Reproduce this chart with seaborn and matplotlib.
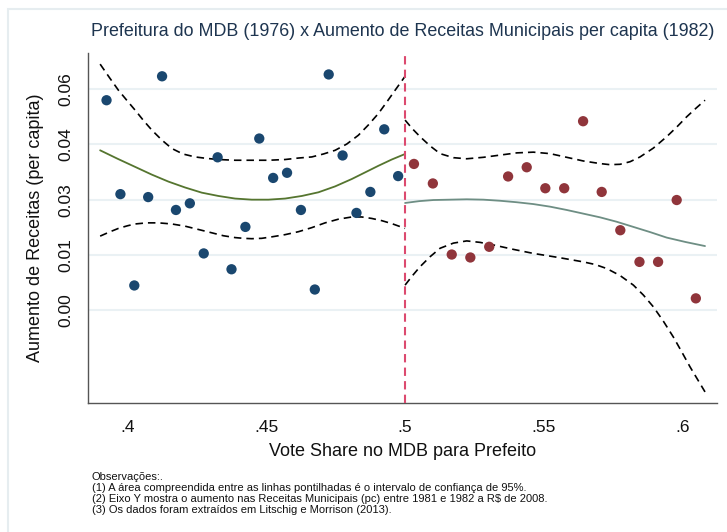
import matplotlib
matplotlib.use("Agg")
import matplotlib.pyplot as plt
import seaborn as sns
from matplotlib.patches import Rectangle

# medias por bin de vote share
x_left = [0.3925, 0.3975, 0.4025, 0.4075, 0.4125, 0.4175, 0.4225, 0.4275, 0.4325, 0.4375, 0.4425,
          0.4475, 0.4525, 0.4575, 0.4625, 0.4675, 0.4725, 0.4775, 0.4825, 0.4875, 0.4925, 0.4975]
y_left = [0.0570, 0.0315, 0.0067, 0.0307, 0.0635, 0.0272, 0.0290, 0.0154, 0.0415, 0.0111, 0.0226,
          0.0466, 0.0359, 0.0373, 0.0272, 0.0056, 0.0640, 0.0420, 0.0264, 0.0321, 0.0491, 0.0364]
x_right = [0.5032, 0.5100, 0.5168, 0.5235, 0.5303, 0.5371, 0.5438, 0.5505,
           0.5573, 0.5641, 0.5708, 0.5775, 0.5844, 0.5911, 0.5978, 0.6047]
y_right = [0.0397, 0.0344, 0.0151, 0.0143, 0.0172, 0.0363, 0.0388, 0.0331,
           0.0331, 0.0513, 0.0321, 0.0217, 0.0131, 0.0131, 0.0299, 0.0032]

# ajuste e intervalo de confianca 95%
fit_l_x = [0.3902, 0.3965, 0.4028, 0.4088, 0.4148, 0.4208, 0.4268, 0.4328, 0.4388, 0.4448, 0.4508,
           0.4568, 0.4628, 0.4688, 0.4748, 0.4808, 0.4856, 0.4904, 0.4952, 0.5000]
fit_l_y = [0.0434, 0.0411, 0.0389, 0.0368, 0.0349, 0.0333, 0.0319, 0.0310, 0.0303, 0.0300, 0.0300,
           0.0303, 0.0310, 0.0320, 0.0336, 0.0356, 0.0374, 0.0392, 0.0409, 0.0424]
up_l_x = [0.3902, 0.3935, 0.3968, 0.4000, 0.4028, 0.4058, 0.4088, 0.4124, 0.4160, 0.4200, 0.4244,
          0.4286, 0.4328, 0.4388, 0.4448, 0.4508, 0.4568, 0.4616, 0.4664, 0.4706, 0.4748, 0.4790,
          0.4832, 0.4868, 0.4904, 0.4934, 0.4964, 0.5000]
up_l_y = [0.0668, 0.0632, 0.0597, 0.0568, 0.0543, 0.0515, 0.0489, 0.0462, 0.0439, 0.0424, 0.0416,
          0.0412, 0.0409, 0.0407, 0.0407, 0.0407, 0.0409, 0.0413, 0.0416, 0.0424, 0.0434, 0.0451,
          0.0475, 0.0503, 0.0534, 0.0565, 0.0597, 0.0635]
lo_l_x = [0.3902, 0.3935, 0.3968, 0.4000, 0.4028, 0.4070, 0.4112, 0.4160, 0.4208, 0.4256, 0.4304,
          0.4346, 0.4388, 0.4418, 0.4448, 0.4484, 0.4520, 0.4568, 0.4616, 0.4664, 0.4712, 0.4760,
          0.4808, 0.4844, 0.4880, 0.4916, 0.4952, 0.5000]
lo_l_y = [0.0201, 0.0212, 0.0222, 0.0229, 0.0234, 0.0237, 0.0237, 0.0234, 0.0228, 0.0219, 0.0210,
          0.0202, 0.0197, 0.0195, 0.0194, 0.0195, 0.0199, 0.0205, 0.0213, 0.0224, 0.0237, 0.0247,
          0.0253, 0.0253, 0.0249, 0.0243, 0.0235, 0.0222]

fit_r_x = [0.5000, 0.5051, 0.5102, 0.5162, 0.5222, 0.5282, 0.5342, 0.5402, 0.5462, 0.5522, 0.5582,
           0.5642, 0.5702, 0.5762, 0.5822, 0.5882, 0.5942, 0.6010, 0.6080]
fit_r_y = [0.0291, 0.0296, 0.0299, 0.0300, 0.0301, 0.0300, 0.0297, 0.0293, 0.0288, 0.0281, 0.0272,
           0.0262, 0.0252, 0.0240, 0.0226, 0.0212, 0.0197, 0.0185, 0.0174]
up_r_x = [0.5000, 0.5027, 0.5054, 0.5090, 0.5126, 0.5174, 0.5222, 0.5282, 0.5342, 0.5402, 0.5462,
          0.5522, 0.5582, 0.5642, 0.5702, 0.5738, 0.5774, 0.5810, 0.5846, 0.5894, 0.5942, 0.5978,
          0.6014, 0.6047, 0.6080]
up_r_y = [0.0516, 0.0492, 0.0471, 0.0446, 0.0425, 0.0414, 0.0411, 0.0415, 0.0421, 0.0427, 0.0429,
          0.0425, 0.0415, 0.0405, 0.0398, 0.0395, 0.0396, 0.0403, 0.0416, 0.0440, 0.0471, 0.0497,
          0.0525, 0.0548, 0.0570]
lo_r_x = [0.5000, 0.5027, 0.5054, 0.5090, 0.5126, 0.5174, 0.5222, 0.5270, 0.5318, 0.5390, 0.5462,
          0.5552, 0.5642, 0.5684, 0.5726, 0.5774, 0.5822, 0.5858, 0.5894, 0.5930, 0.5966, 0.5996,
          0.6026, 0.6053, 0.6080]
lo_r_y = [0.0068, 0.0094, 0.0118, 0.0145, 0.0168, 0.0182, 0.0188, 0.0184, 0.0177, 0.0165, 0.0154,
          0.0143, 0.0131, 0.0124, 0.0113, 0.0094, 0.0068, 0.0041, 0.0009, -0.0030, -0.0073, -0.0113,
          -0.0154, -0.0188, -0.0222]

x_ticks = [0.4, 0.45, 0.5, 0.55, 0.6]
x_labels = ['.4', '.45', '.5', '.55', '.6']
y_ticks = [0.0, 0.015, 0.03, 0.045, 0.06]
y_labels = ['0.00', '0.01', '0.03', '0.04', '0.06']

NOTES = ("Observações:.\n"
         "(1) A área compreendida entre as linhas pontilhadas é o intervalo de confiança de 95%.\n"
         "(2) Eixo Y mostra o aumento nas Receitas Municipais (pc) entre 1981 e 1982 a R$ de 2008.\n"
         "(3) Os dados foram extraídos em Litschig e Morrison (2013).")

sns.set_style("white")
plt.rcParams['font.family'] = ['Liberation Sans', 'DejaVu Sans']

fig = plt.figure(figsize=(7.27, 5.32), dpi=100)
ax = fig.add_axes([0.1217, 0.2419, 0.8641, 0.659])

# grid horizontal clarinho
for t in y_ticks:
    ax.axhline(t, color='#eaf1f4', lw=1.5, zorder=0)

dash = (0, (4.5, 3))
for cx, cy in [(up_l_x, up_l_y), (lo_l_x, lo_l_y), (up_r_x, up_r_y), (lo_r_x, lo_r_y)]:
    sns.lineplot(x=cx, y=cy, ax=ax, color='black', lw=1.2, linestyle=dash,
                 estimator=None, sort=False, zorder=2)
sns.lineplot(x=fit_l_x, y=fit_l_y, ax=ax, color='#55752f', lw=1.3, estimator=None, sort=False, zorder=2)
sns.lineplot(x=fit_r_x, y=fit_r_y, ax=ax, color='#6e8e84', lw=1.3, estimator=None, sort=False, zorder=2)

sns.scatterplot(x=x_left, y=y_left, ax=ax, color='#1a476f', s=55, edgecolor='none', zorder=3)
sns.scatterplot(x=x_right, y=y_right, ax=ax, color='#90353b', s=55, edgecolor='none', zorder=3)

ax.axvline(0.5, color='#dc4a6f', lw=1.5, linestyle=(0, (4, 2.5)), zorder=4)

ax.set_xlim(0.3860, 0.6122)
ax.set_ylim(-0.0253, 0.0699)
ax.set_xticks(x_ticks)
ax.set_xticklabels(x_labels)
ax.set_yticks(y_ticks)
ax.set_yticklabels(y_labels, rotation=90, va='center')

for side in ['top', 'right']:
    ax.spines[side].set_visible(False)
for side in ['left', 'bottom']:
    ax.spines[side].set_color('#555555')
    ax.spines[side].set_linewidth(1.0)
ax.tick_params(axis='both', direction='out', length=5, width=1, color='#555555',
               labelsize=12.5, labelcolor='#111111')
ax.tick_params(axis='x', pad=7)
ax.tick_params(axis='y', pad=6)

ax.set_xlabel('Vote Share no MDB para Prefeito', fontsize=13, labelpad=6, color='#111111')
ax.set_ylabel('Aumento de Receitas (per capita)', fontsize=13, labelpad=10, color='#111111')
ax.set_title('Prefeitura do MDB (1976) x Aumento de Receitas Municipais per capita (1982)',
             fontsize=12.9, color='#1e3550', pad=12)

fig.text(0.1262, 0.1128, NOTES, fontsize=8.0, va='top', ha='left', linespacing=1.12, color='#111111')

# moldura externa clara
fig.patches.append(Rectangle((8 / 727, -0.1), 1.2, 1.1 - 9 / 532, transform=fig.transFigure,
                             fill=False, edgecolor='#e6edf0', lw=1.5, clip_on=False))

fig.savefig('out.png', dpi=100)
